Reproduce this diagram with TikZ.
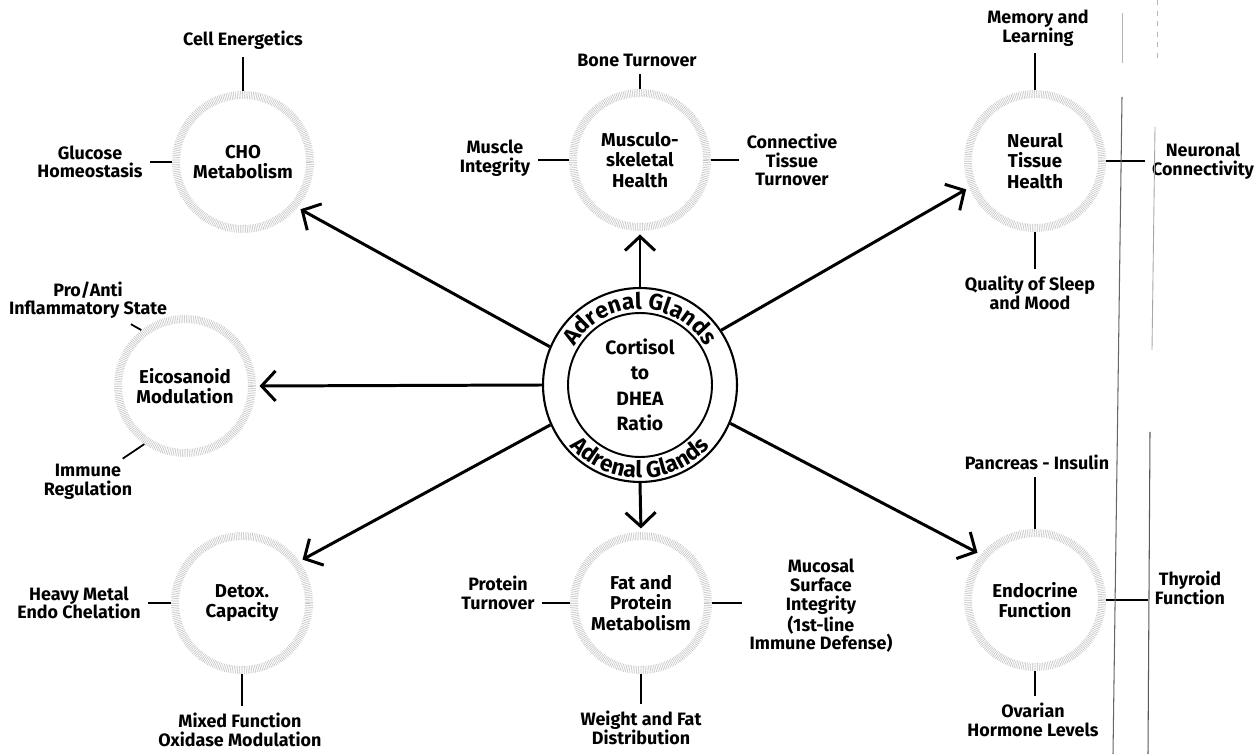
\documentclass[tikz,border=0pt]{standalone}
\usepackage{fontspec}
\setmainfont{Fira Sans}
\usetikzlibrary{arrows.meta,decorations.text}
\begin{document}
\begin{tikzpicture}[x=0.02cm,y=0.02cm]
    \tikzstyle{hub}=[circle,draw,line width=1.2pt,minimum size=3.88cm,inner sep=0pt]
    \tikzstyle{core}=[circle,draw,line width=1.1pt,minimum size=2.88cm,inner sep=0pt,align=center,font=\bfseries\fontsize{11}{14.5}\selectfont]
    \tikzstyle{sat}=[circle,draw=gray!50,line width=0.16cm,dash pattern=on 0.3pt off 0.7pt,minimum size=2.68cm,inner sep=0pt,align=center,font=\bfseries\fontsize{10.6}{11.6}\selectfont]
    \tikzstyle{lbl}=[align=center,inner sep=2pt,font=\bfseries\fontsize{10.2}{10.6}\selectfont]
    \tikzstyle{tick}=[line width=1pt,shorten >=2pt]
    \tikzstyle{feed}=[line width=1.7pt,shorten >=2pt,-{Straight Barb[length=0.28cm,width=0.6cm]}]
    \useasboundingbox (0,0) rectangle (1255,754);
    % centre
    \node[hub] (hub) at (640,369){};
    \node[core] (ratio) at (640,369){Cortisol\\to\\DHEA\\Ratio};
    \path[decorate,decoration={text along path,text align=center,
      text={|\bfseries\fontsize{13}{13}\selectfont|Adrenal Glands}}]
      (640,369) ++(162:76) arc[start angle=162,end angle=18,radius=76];
    \path[decorate,decoration={text along path,text align=center,
      text={|\bfseries\fontsize{13}{13}\selectfont|Adrenal Glands}}]
      (640,369) ++(198:93) arc[start angle=198,end angle=342,radius=93];
    % satellites
    \node[sat] (cho) at (243,592){CHO\\Metabolism};
    \node[sat] (msk) at (640,594){Musculo-\\skeletal\\Health};
    \node[sat] (neur) at (1035,593){Neural\\Tissue\\Health};
    \node[sat] (eico) at (185,368){Eicosanoid\\Modulation};
    \node[sat] (detox) at (242,151){Detox.\\Capacity};
    \node[sat] (fat) at (641,151){Fat and\\Protein\\Metabolism};
    \node[sat] (endo) at (1035,154){Endocrine\\Function};
    % labels
    \node[lbl] (cell) at (243,714){Cell Energetics};
    \node[lbl] (gluc) at (90,592){Glucose\\Homeostasis};
    \node[lbl] (bone) at (637,694){Bone Turnover};
    \node[lbl] (muscle) at (495,596){Muscle\\Integrity};
    \node[lbl] (conn) at (792,594){Connective\\Tissue\\Turnover};
    \node[lbl] (memo) at (1038,726){Memory and\\Learning};
    \node[lbl] (neuro) at (1203,593){Neuronal\\Connectivity};
    \node[lbl] (sleep) at (1030,461){Quality of Sleep\\and Mood};
    \node[lbl] (proanti) at (88,454){Pro/Anti\\Inflammatory State};
    \node[lbl] (immune) at (88,272){Immune\\Regulation};
    \node[lbl] (heavy) at (79,151){Heavy Metal\\Endo Chelation};
    \node[lbl] (mixed) at (240,24){Mixed Function\\Oxidase Modulation};
    \node[lbl] (protein) at (498,161){Protein\\Turnover};
    \node[lbl] (mucosal) at (821,148){Mucosal\\Surface\\Integrity\\(1st-line\\Immune Defense)};
    \node[lbl] (weight) at (641,26){Weight and Fat\\Distribution};
    \node[lbl] (pancreas) at (1037,292){Pancreas - Insulin};
    \node[lbl] (thyroid) at (1190,166){Thyroid\\Function};
    \node[lbl] (ovarian) at (1033,34){Ovarian\\Hormone Levels};
    % ticks
    \draw[tick] (cho.north) -- (cho.north |- cell.south);
    \draw[tick] (cho.west) -- (cho.west -| gluc.east);
    \draw[tick] (msk.north) -- (msk.north |- bone.south);
    \draw[tick] (msk.west) -- (msk.west -| muscle.east);
    \draw[tick] (msk.east) -- (msk.east -| conn.west);
    \draw[tick] (neur.north) -- (neur.north |- memo.south);
    \draw[tick] (neur.east) -- (neur.east -| neuro.west);
    \draw[tick] (neur.south) -- (neur.south |- sleep.north);
    \draw[tick] (eico.128) -- (proanti);
    \draw[tick] (eico.235) -- (immune);
    \draw[tick] (detox.west) -- (detox.west -| heavy.east);
    \draw[tick] (detox.south) -- (detox.south |- mixed.north);
    \draw[tick] (fat.west) -- (fat.west -| protein.east);
    \draw[tick] (fat.east) -- (fat.east -| mucosal.west);
    \draw[tick] (fat.south) -- (fat.south |- weight.north);
    \draw[tick] (endo.north) -- (endo.north |- pancreas.south);
    \draw[tick] (endo.east) -- (endo.east -| thyroid.west);
    \draw[tick] (endo.south) -- (endo.south |- ovarian.north);
    % arrows
    \draw[feed] (hub.157) -- (cho.-40);
    \draw[feed] (hub.90) -- (msk.-90);
    \draw[feed] (hub.34) -- (neur.-158);
    \draw[feed] (hub.180) -- (eico.0);
    \draw[feed] (hub.204) -- (detox.36);
    \draw[feed] (hub.-90) -- (fat.90);
    \draw[feed] (hub.-23) -- (endo.140);
    % margin rules
    \draw[gray!60,line width=0.5pt] (1122,741) -- (1122,691);
    \draw[gray!80!black,line width=0.6pt] (1122,657) -- (1113,0);
    \draw[gray!60,line width=0.4pt,dashed] (1157,754) -- (1157,694);
    \draw[gray!70,line width=0.5pt] (1155,627) -- (1152,404);
    \draw[gray!70!black,line width=0.6pt] (1150,322) -- (1148,0);
\end{tikzpicture}
\end{document}
